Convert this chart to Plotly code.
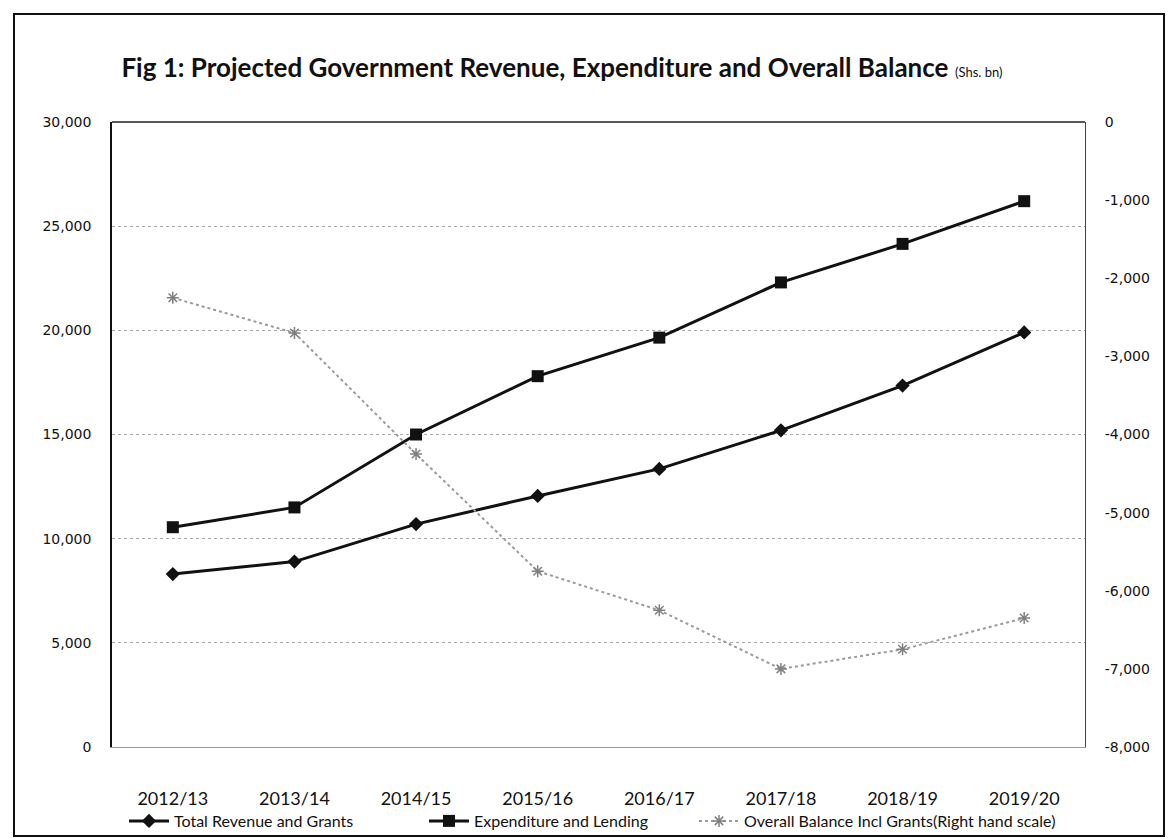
import plotly.graph_objects as go

categories = ["2012/13", "2013/14", "2014/15", "2015/16", "2016/17", "2017/18", "2018/19", "2019/20"]
revenue = [8300, 8900, 10700, 12050, 13350, 15200, 17350, 19900]
expenditure = [10550, 11500, 15000, 17800, 19650, 22300, 24150, 26200]
balance = [-2250, -2700, -4250, -5750, -6250, -7000, -6750, -6350]

left_ticks = [0, 5000, 10000, 15000, 20000, 25000, 30000]
right_ticks = [-8000, -7000, -6000, -5000, -4000, -3000, -2000, -1000, 0]

FONT = "Lato"
W, H = 1173, 838
ML, MR, MT, MB = 112, 88, 122, 91
PW = W - ML - MR
PH = H - MT - MB


def px(x):
    return (x - ML) / PW


def py(y):
    return (H - MB - y) / PH


fig = go.Figure()
fig.add_trace(go.Scatter(
    x=categories, y=revenue, name="Total Revenue and Grants",
    mode="lines+markers", legend="legend",
    line=dict(color="#111111", width=3),
    marker=dict(symbol="diamond", size=11, color="#111111"),
))
fig.add_trace(go.Scatter(
    x=categories, y=expenditure, name="Expenditure and Lending",
    mode="lines+markers", legend="legend2",
    line=dict(color="#111111", width=3),
    marker=dict(symbol="square", size=12, color="#111111"),
))
fig.add_trace(go.Scatter(
    x=categories, y=balance, name="Overall Balance Incl Grants(Right hand scale)",
    mode="lines+markers", yaxis="y2", legend="legend3",
    line=dict(color="#9a9a9a", width=2, dash="dot"),
    marker=dict(symbol="asterisk-open", size=10, color="#808080", line=dict(width=1.5, color="#808080")),
))

legend_common = dict(
    orientation="h", xref="container", yref="container", xanchor="left",
    y=1 - 804 / H, yanchor="top",
    font=dict(family=FONT, size=16, color="#111111"),
    itemwidth=40, bgcolor="rgba(0,0,0,0)", borderwidth=0,
)

fig.update_layout(
    width=W, height=H,
    margin=dict(l=ML, r=MR, t=MT, b=MB, autoexpand=False),
    paper_bgcolor="white", plot_bgcolor="white",
    font=dict(family=FONT, color="#111111"),
    title=dict(
        text="<b>Fig 1: Projected Government Revenue, Expenditure and Overall Balance</b> <span style='font-size:13px'>(Shs. bn)</span>",
        x=562 / W, xanchor="center", y=1 - 68 / H, yanchor="middle",
        font=dict(family=FONT, size=26, color="#111111"),
    ),
    xaxis=dict(
        type="category", range=[-0.5, 7.5], automargin=False,
        showgrid=False, showline=True, linecolor="#9a9a9a", linewidth=1,
        ticks="", ticklabelstandoff=35,
        tickfont=dict(family=FONT, size=18, color="#111111"),
        zeroline=False,
    ),
    yaxis=dict(
        range=[0, 30000], tickvals=left_ticks, ticktext=[f"{v:,}" for v in left_ticks],
        automargin=False,
        showgrid=True, gridcolor="#a8a8a8", griddash="dot", gridwidth=1,
        showline=True, linecolor="#111111", linewidth=1.5,
        ticks="", ticklabelstandoff=16,
        tickfont=dict(family="DejaVu Sans", size=14, color="#111111"),
        zeroline=False,
    ),
    yaxis2=dict(
        range=[-8000, 0], tickvals=right_ticks, ticktext=[f"{v:,}" for v in right_ticks],
        overlaying="y", side="right", automargin=False,
        showgrid=False, showline=True, linecolor="#444444", linewidth=1,
        ticks="", ticklabelstandoff=16,
        tickfont=dict(family="DejaVu Sans", size=14, color="#111111"),
        zeroline=False,
    ),
    legend=dict(legend_common, x=124 / W),
    legend2=dict(legend_common, x=424 / W),
    legend3=dict(legend_common, x=694 / W),
    showlegend=True,
)

# top border of plot area
fig.add_shape(type="line", xref="paper", yref="paper", x0=0, x1=1, y0=1, y1=1,
              line=dict(color="#222222", width=1.5))
# outer frame of the figure
fig.add_shape(type="rect", xref="paper", yref="paper",
              x0=px(14), x1=px(1164), y0=py(836), y1=py(14),
              line=dict(color="#111111", width=2))

fig.write_html("out.html")
